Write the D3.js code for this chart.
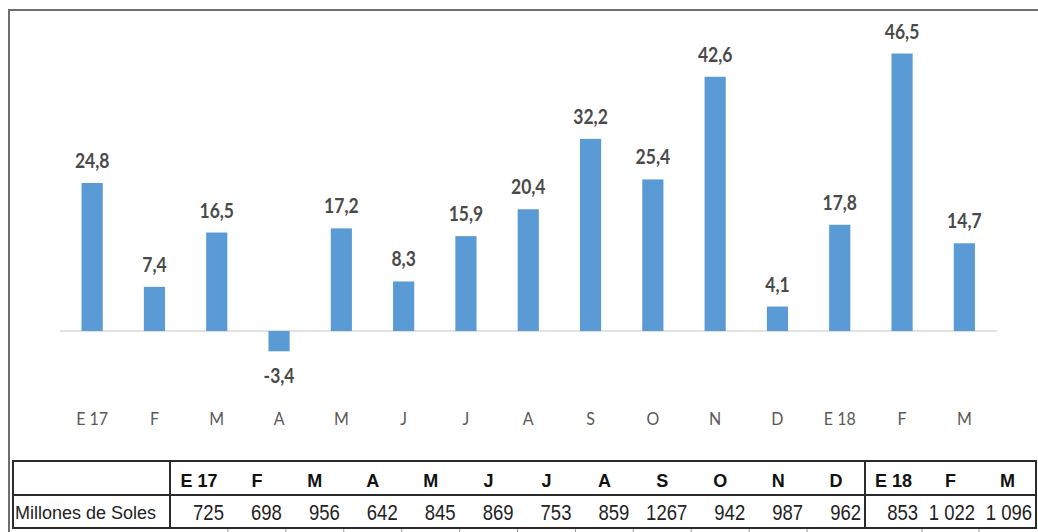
<!DOCTYPE html>
<html>
<head>
<meta charset="utf-8">
<script src="https://cdn.jsdelivr.net/npm/d3@7"></script>
<style>
  html, body { margin: 0; padding: 0; background: #fff; }
  svg { display: block; }
</style>
</head>
<body>
<script>
// ---- data ----
const categories = ["E 17","F","M","A","M","J","J","A","S","O","N","D","E 18","F","M"];
const growth = [24.8, 7.4, 16.5, -3.4, 17.2, 8.3, 15.9, 20.4, 32.2, 25.4, 42.6, 4.1, 17.8, 46.5, 14.7];
const growthLabels = ["24,8","7,4","16,5","-3,4","17,2","8,3","15,9","20,4","32,2","25,4","42,6","4,1","17,8","46,5","14,7"];
const tableRowLabel = "Millones de Soles";
const tableValues = ["725","698","956","642","845","869","753","859","1267","942","987","962","853","1 022","1 096"];

const W = 1038, H = 532;
const svg = d3.select("body").append("svg").attr("width", W).attr("height", H);

// outer frame (left and top)
svg.append("path").attr("d", `M9,${H} L9,10 L${W},10`)
  .attr("fill", "none").attr("stroke", "#6e6e6e").attr("stroke-width", 2);

// scales
const x = d3.scaleBand().domain(d3.range(categories.length)).range([61, 995.5]).paddingInner(0.66).paddingOuter(0.33);
const y = d3.scaleLinear().domain([0, 46.5]).range([331, 53.5]);

// baseline
svg.append("line").attr("x1", 60).attr("x2", 997).attr("y1", y(0)).attr("y2", y(0))
  .attr("stroke", "#d9d9d9").attr("stroke-width", 1.5);

// bars
svg.selectAll("rect.bar").data(growth).join("rect").attr("class", "bar")
  .attr("x", (d, i) => x(i))
  .attr("width", x.bandwidth())
  .attr("y", d => Math.min(y(d), y(0)))
  .attr("height", d => Math.abs(y(d) - y(0)))
  .attr("fill", "#5b9bd5");

// value labels
svg.selectAll("text.val").data(growth).join("text").attr("class", "val")
  .attr("transform", (d, i) => `translate(${x(i) + x.bandwidth() / 2},${d >= 0 ? y(d) - 15 : y(d) + 32}) scale(1,1.18)`)
  .attr("text-anchor", "middle")
  .attr("font-family", "Lato, 'Open Sans', sans-serif")
  .attr("font-weight", "bold")
  .attr("font-size", 17.5)
  .attr("fill", "#4a4a4a")
  .text((d, i) => growthLabels[i]);

// category labels
svg.selectAll("text.cat").data(categories).join("text").attr("class", "cat")
  .attr("transform", (d, i) => `translate(${x(i) + x.bandwidth() / 2},425) scale(1,1.1)`)
  .attr("text-anchor", "middle")
  .attr("font-family", "Lato, 'Open Sans', sans-serif")
  .attr("font-size", 16)
  .attr("fill", "#595959")
  .text(d => d);

// ---- table ----
const tLeft = 13, tFirst = 170, tMid = 865, tRight = 1036;
const rowTop = 461, rowMid = 495, rowBot = 528;
const colsA = d3.scaleBand().domain(d3.range(12)).range([tFirst, tMid]);
const colsB = d3.scaleBand().domain(d3.range(12, 15)).range([tMid, tRight]);
const colX = i => i < 12 ? colsA(i) : colsB(i);
const colW = i => i < 12 ? colsA.bandwidth() : colsB.bandwidth();

const tg = svg.append("g");
const stroke = "#2b2b2b";
[rowTop, rowMid, rowBot].forEach(yy => {
  tg.append("line").attr("x1", tLeft).attr("x2", tRight).attr("y1", yy).attr("y2", yy)
    .attr("stroke", stroke).attr("stroke-width", 2);
});
[tLeft, tFirst, tMid, tRight].forEach(xx => {
  tg.append("line").attr("x1", xx).attr("x2", xx).attr("y1", rowTop - 1).attr("y2", rowBot + 1)
    .attr("stroke", stroke).attr("stroke-width", 2);
});
// small column ticks below the table
tg.selectAll("line.tick").data(d3.range(1, 15).filter(i => i !== 12)).join("line").attr("class", "tick")
  .attr("x1", i => colX(i)).attr("x2", i => colX(i))
  .attr("y1", rowBot + 1).attr("y2", rowBot + 4)
  .attr("stroke", "#999").attr("stroke-width", 1);

// header row
tg.selectAll("text.hdr").data(categories).join("text").attr("class", "hdr")
  .attr("x", (d, i) => colX(i) + colW(i) / 2)
  .attr("y", 487)
  .attr("text-anchor", "middle")
  .attr("font-family", "'Liberation Sans', Arial, sans-serif")
  .attr("font-weight", "bold")
  .attr("font-size", 18)
  .attr("fill", "#111")
  .text(d => d);

// values row
tg.append("text").attr("x", 15).attr("y", 519)
  .attr("font-family", "'Liberation Sans', Arial, sans-serif")
  .attr("font-size", 18).attr("fill", "#222")
  .text(tableRowLabel);

tg.selectAll("text.tv").data(tableValues).join("text").attr("class", "tv")
  .attr("transform", (d, i) => `translate(${colX(i) + colW(i) - 4},520) scale(1,1.2)`)
  .attr("text-anchor", "end")
  .attr("font-family", "'Liberation Sans', Arial, sans-serif")
  .attr("font-size", 18.5)
  .attr("fill", "#222")
  .text(d => d);
</script>
</body>
</html>
